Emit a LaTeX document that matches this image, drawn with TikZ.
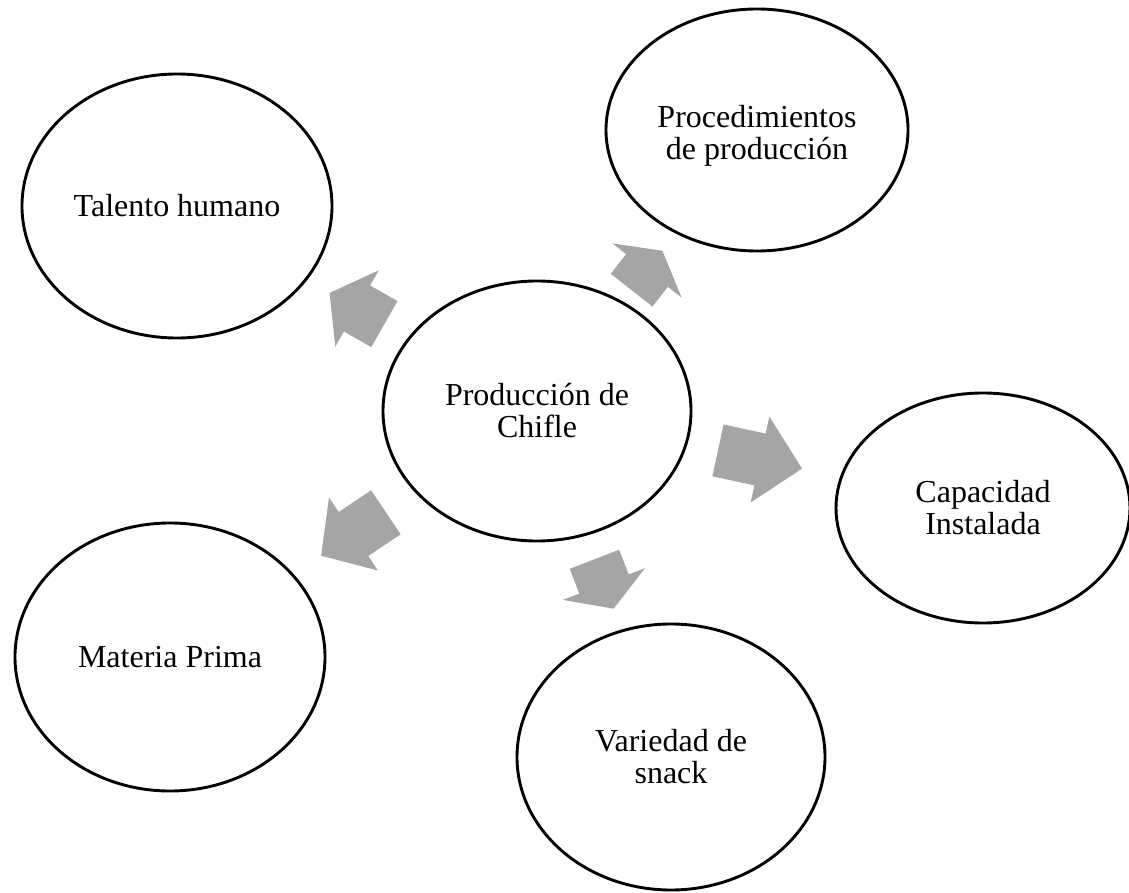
\documentclass[tikz,border=0pt]{standalone}
\usepackage{fontspec}
\setmainfont{Liberation Serif}
\usetikzlibrary{shapes.geometric,calc}
\definecolor{arrowgray}{RGB}{165,165,165}
\tikzset{
  bubbletext/.style={inner sep=0pt, align=center, font=\fontsize{32}{32}\selectfont},
  bubble/.style={ellipse, draw=black, line width=2.9pt, fill=white, bubbletext},
  pics/blockarrow/.style={code={
    \fill[arrowgray] (-#1/2,-26.5) -- (0,-26.5) -- (0,-44) -- (#1/2,0)
      -- (0,44) -- (0,26.5) -- (-#1/2,26.5) -- cycle;}}
}
\begin{document}
\begin{tikzpicture}[x=1pt,y=-1pt]
\useasboundingbox (0,0) rectangle (1129,893);
\node[bubble, minimum width=308pt, minimum height=260pt] (c) at (537,411) {Producción de\\Chifle};
\node[bubble, minimum width=310pt, minimum height=264pt] (t) at (177,206) {Talento humano};
\node[bubble, minimum width=302pt, minimum height=242pt,
  label={[bubbletext, yshift=-6pt]center:{Procedimientos\\de producción}}] (p) at (757,130) {};
\node[bubble, minimum width=294pt, minimum height=230pt] (cap) at (983,508) {Capacidad\\Instalada};
\node[bubble, minimum width=310pt, minimum height=268pt] (m) at (170,657) {Materia Prima};
\node[bubble, minimum width=308pt, minimum height=266pt] (v) at (671,757) {Variedad de\\snack};
\foreach \tg/\len in {t/63, p/50, cap/86, m/78, v/53}
  \path let \p1=($(\tg)-(c)$), \n1={atan2(\y1,\x1)} in
    ($(c)!0.5!(\tg)$) pic[rotate=\n1] {blockarrow=\len};
\end{tikzpicture}
\end{document}
